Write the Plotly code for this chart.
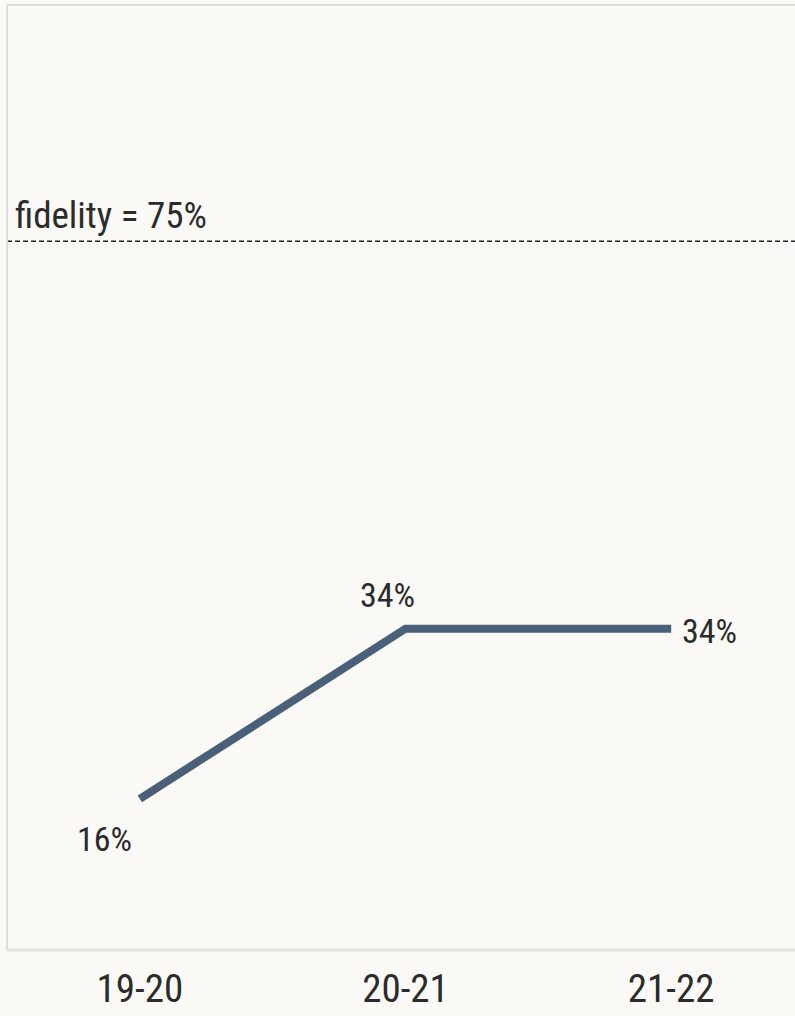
import plotly.graph_objects as go

years = ["19-20", "20-21", "21-22"]
fidelity_pct = [16, 34, 34]
target_pct = 75
target_label = "fidelity = 75%"

FONT = "Roboto Condensed, DejaVu Sans Condensed, Liberation Sans Narrow, sans-serif"
BG = "#faf9f5"
LINE = "#4a5f78"
TXT = "#2b2b2b"

fig = go.Figure()
fig.add_trace(go.Scatter(
    x=years, y=fidelity_pct, mode="lines",
    line=dict(color=LINE, width=8),
    hoverinfo="skip", showlegend=False,
))

# value labels
label_offsets = [(-35, -40, "center", "middle"), (-18, 34, "center", "middle"), (9, -2, "left", "middle")]
for xv, yv, (dx, dy, xa, ya) in zip(years, fidelity_pct, label_offsets):
    fig.add_annotation(x=xv, y=yv, text=f"{yv}%", showarrow=False,
                       xshift=dx, yshift=dy, xanchor=xa, yanchor=ya,
                       font=dict(family=FONT, size=34, color=TXT))

# target line
fig.add_shape(type="line", xref="paper", x0=0, x1=1, yref="y", y0=target_pct, y1=target_pct,
              line=dict(color="#222222", width=1.5, dash="5px,3px"))
fig.add_annotation(xref="paper", x=0, y=target_pct, text=target_label, showarrow=False,
                   xanchor="left", yanchor="bottom", xshift=6, yshift=2,
                   font=dict(family=FONT, size=37, color=TXT))

# plot frame (left, top, bottom)
frame = "#dcdcd8"
fig.add_shape(type="line", xref="paper", yref="paper", x0=0, x1=0, y0=0, y1=1, line=dict(color=frame, width=2))
fig.add_shape(type="line", xref="paper", yref="paper", x0=0, x1=1, y0=1, y1=1, line=dict(color=frame, width=2))
fig.add_shape(type="line", xref="paper", yref="paper", x0=0, x1=1, y0=0, y1=0, line=dict(color="#e2e2de", width=3))

fig.update_layout(
    width=795, height=1016,
    margin=dict(l=7, r=0, t=5, b=66),
    paper_bgcolor=BG, plot_bgcolor=BG,
    font=dict(family=FONT, color=TXT),
)
fig.update_xaxes(range=[-0.5, 2.466], showgrid=False, zeroline=False, showline=False,
                 automargin=False, ticks="", ticklabelstandoff=12,
                 tickfont=dict(family=FONT, size=39, color=TXT))
fig.update_yaxes(range=[0, 100], showgrid=False, zeroline=False, showline=False,
                 automargin=False, showticklabels=False, ticks="")

fig.write_html("out.html")
